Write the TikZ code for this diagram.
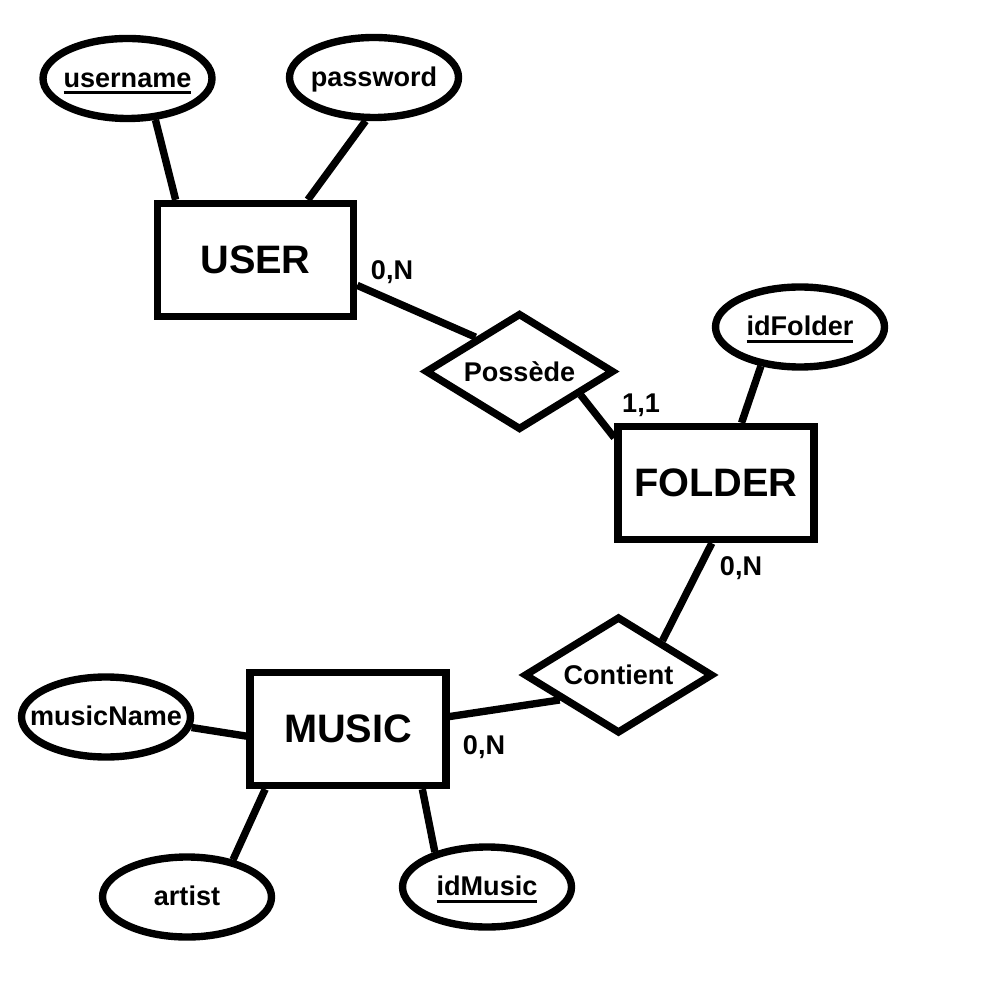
\documentclass[tikz,border=0pt]{standalone}
\usepackage{fontspec}
\setmainfont{Liberation Sans}
\usetikzlibrary{shapes.geometric}

% a thicker underline for the keys
\newcommand{\keyline}[1]{\setbox0\hbox{#1}\rlap{\rule[-1.9pt]{\wd0}{0.85pt}}\box0}

\begin{document}
\begin{tikzpicture} [
                % all sizes are taken from a 10cm x 10cm page
                entity/.style = {rectangle,draw,fill=white,line width=2.1pt,minimum width=1.96cm,minimum height=1.13cm,inner sep=0pt,font=\bfseries\fontsize{11.3}{13}\selectfont},
                relation/.style = {diamond,draw,fill=white,line width=2.1pt,aspect=1.6,minimum width=1.89cm,minimum height=1.17cm,inner sep=0pt,font=\bfseries\fontsize{7.7}{9}\selectfont},
                attribute/.style = {ellipse,draw,fill=white,line width=2.1pt,minimum width=1.69cm,minimum height=0.80cm,inner sep=0pt,text height=0.72em,text depth=0.21em,font=\bfseries\fontsize{7.7}{9}\selectfont},
                card/.style = {inner sep=0pt,font=\bfseries\fontsize{7.7}{9}\selectfont},
                link/.style = {draw,line width=2.1pt,-}
            ]
            \useasboundingbox (0,0) rectangle (10,-10);
            % First the entities and the relations
            \foreach \pos/\name/\text in {
                {(2.555,-2.60)/user/USER}, {(7.16,-4.83)/folder/FOLDER}, {(3.48,-7.29)/music/MUSIC}}
                \node[entity] (\name) at \pos {\text};
            \foreach \pos/\name/\text in {
                {(5.195,-3.715)/possede/Possède}, {(6.185,-6.75)/contient/Contient}}
                \node[relation] (\name) at \pos {\text};
            % the attributes, keys are underlined
            \foreach \pos/\name/\text in {
                {(1.275,-0.785)/username/{\keyline{username}}}, {(3.74,-0.775)/password/password},
                {(8.00,-3.27)/idfolder/{\keyline{idFolder}}}, {(1.06,-7.17)/musicname/musicName},
                {(1.87,-8.97)/artist/artist}, {(4.87,-8.87)/idmusic/{\keyline{idMusic}}}}
                \node[attribute] (\name) at \pos {\makebox[0pt]{\text}};
            % cardinalities
            \foreach \pos/\name/\text in {
                {(3.92,-2.72)/carduser/{0,N}}, {(6.41,-4.05)/cardfolderp/{1,1}},
                {(7.41,-5.68)/cardfolderc/{0,N}}, {(4.84,-7.47)/cardmusic/{0,N}}}
                \node[card] (\name) at \pos {\text};
            % Connect attributes to their entity
            \foreach \source/\dest in {username.-56/user.143, password.-101/user.49,
                                       idfolder.-135/folder.67, musicname.-7/music.184,
                                       artist.39/music.-144, idmusic.146/music.-39}
                \path[link] (\source) -- (\dest);
            % Connect entities through the relations
            \foreach \source/\dest in {user.-14/possede.142, possede.-21/folder.156,
                                       folder.-94/contient.38, contient.-157/music.7}
                \path[link] (\source) -- (\dest);
        \end{tikzpicture}
\end{document}
